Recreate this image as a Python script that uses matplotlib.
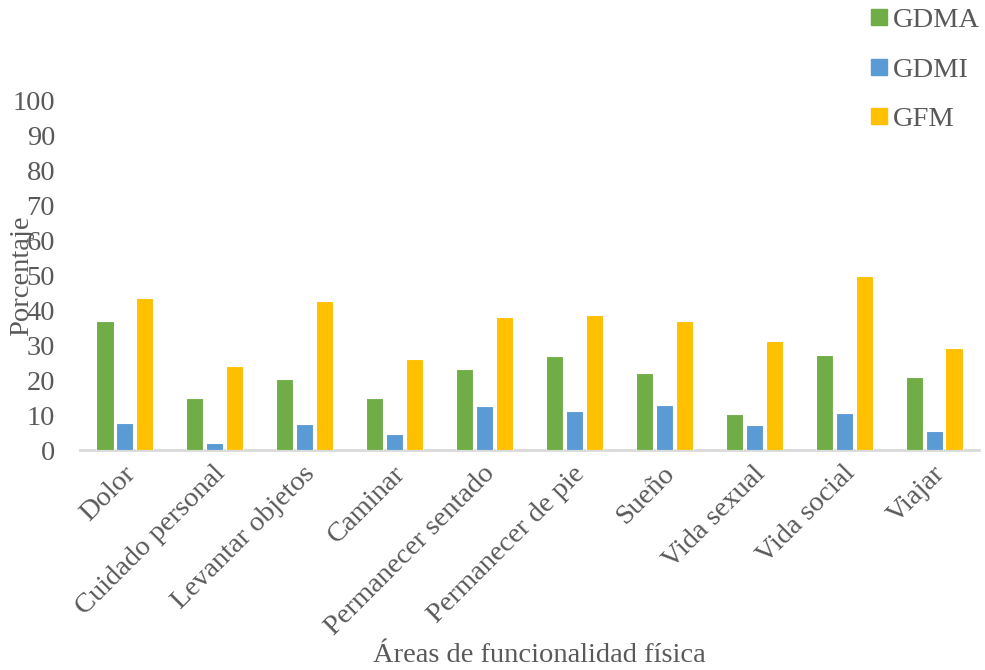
import matplotlib
matplotlib.use("Agg")
import matplotlib.pyplot as plt
import numpy as np
from matplotlib.lines import Line2D

categories = ["Dolor", "Cuidado personal", "Levantar objetos", "Caminar",
              "Permanecer sentado", "Permanecer de pie", "Sueño", "Vida sexual",
              "Vida social", "Viajar"]
gdma = [36.9, 14.9, 20.3, 14.9, 23.3, 26.8, 22.2, 10.2, 27.3, 21.0]
gdmi = [7.6, 2.1, 7.4, 4.7, 12.5, 11.1, 12.9, 7.3, 10.5, 5.4]
gfm = [43.5, 24.2, 42.8, 26.0, 38.0, 38.7, 37.1, 31.2, 49.8, 29.1]
series_names = ["GDMA", "GDMI", "GFM"]
colors = ["#70AD47", "#5B9BD5", "#FFC000"]
yticks = list(range(0, 101, 10))

plt.rcParams['font.family'] = ['Liberation Serif', 'DejaVu Serif']
txt = "#595959"

fig = plt.figure(figsize=(9.85, 6.7), dpi=100)
ax = fig.add_axes([80/985, 1-450/670, (979-80)/985, (450-101)/670])

x = np.arange(len(categories))
w = 0.19
step = 0.222
for i, (vals, c) in enumerate(zip([gdma, gdmi, gfm], colors)):
    ax.bar(x + (i-1)*step, vals, width=w, color=c, edgecolor="white",
           linewidth=0.8, zorder=3)

ax.set_xlim(-0.5, len(categories)-0.5)
ax.set_ylim(0, 100)
ax.set_yticks(yticks)
ax.set_yticklabels([str(t) for t in yticks], fontsize=20.5, color=txt)
ax.tick_params(axis='y', length=0, pad=18)
ax.tick_params(axis='x', length=0, pad=8)
ax.set_xticks(x)
ax.set_xticklabels(categories, fontsize=20.5, color=txt, rotation=45,
                   ha='right', va='top', rotation_mode='anchor')
for lab in ax.get_xticklabels():
    lab.set_transform(lab.get_transform() + matplotlib.transforms.ScaledTranslation(-2/100, 0, fig.dpi_scale_trans))
for s in ["top", "right", "left"]:
    ax.spines[s].set_visible(False)
ax.spines["bottom"].set_color("#d9d9d9")
ax.spines["bottom"].set_linewidth(2)

fig.text(22/985, 1-276/670, "Porcentaje", rotation=90, fontsize=20.5,
         color=txt, ha='center', va='center')
fig.text(539/985, 1-655/670, "Áreas de funcionalidad física", fontsize=20.5,
         color=txt, ha='center', va='center')

handles = [Line2D([0], [0], marker='s', linestyle='none', markersize=11,
                  markerfacecolor=c, markeredgecolor=c) for c in colors]
fig.legend(handles, series_names, loc='upper left',
           bbox_to_anchor=(859/985, 1+4/670), frameon=False, fontsize=20.5,
           labelcolor=txt, handlelength=0.6, handletextpad=0.2,
           labelspacing=0.82, borderaxespad=0)

fig.savefig("out.png", dpi=100)
